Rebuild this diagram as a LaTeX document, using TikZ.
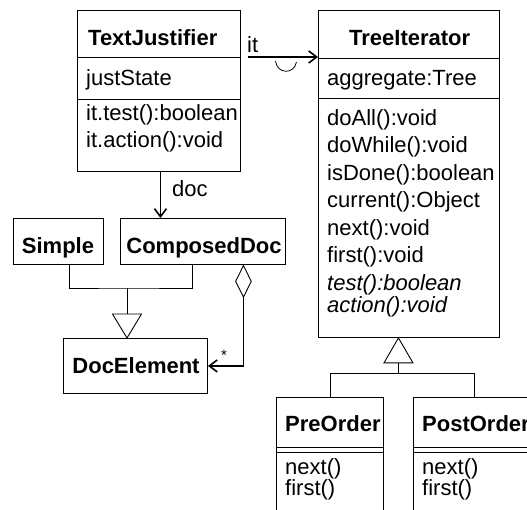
\documentclass[tikz,border=0pt]{standalone}
\usepackage{fontspec}
\setmainfont{Liberation Sans}
\usetikzlibrary{arrows.meta,shapes.geometric}
\begin{document}
\begin{tikzpicture}[x=1pt,y=-1pt,
  box/.style={draw, line width=0.9pt, rectangle, inner sep=0pt, anchor=north west},
  txt/.style={inner sep=0pt, anchor=base west, font=\fontsize{22}{26}\selectfont},
  itx/.style={txt, font=\fontsize{22}{26}\selectfont\itshape},
  nm/.style={txt, font=\fontsize{22}{26}\selectfont\bfseries},
  assoc/.style={line width=1.6pt, -{Straight Barb[length=8pt,width=12pt]}},
  gen/.style={line width=0.9pt},
]
\useasboundingbox (0,0) rectangle (527,509);
\clip (0,0) rectangle (527,509);

% TextJustifier
\node[box, minimum width=163pt, minimum height=161pt] (tj) at (77,10) {};
\draw[gen] (tj.north west |- 0,57) -- (tj.north east |- 0,57);
\draw[gen] (tj.north west |- 0,99) -- (tj.north east |- 0,99);
\node[nm] (tjn) at (88,45) {TextJustifier};
\node[txt] (tja) at (86,85) {justState};
\node[txt] (tjm1) at (86,120) {it.test():boolean};
\node[txt] (tjm2) at (86,147) {it.action():void};

% TreeIterator
\node[box, minimum width=181pt, minimum height=327pt] (ti) at (318,10) {};
\draw[gen] (ti.north west |- 0,58) -- (ti.north east |- 0,58);
\draw[gen] (ti.north west |- 0,98) -- (ti.north east |- 0,98);
\node[nm] (tin) at (349,45) {TreeIterator};
\node[txt] (tia) at (327,85) {aggregate:Tree};
\node[txt] (tim1) at (327,125) {doAll():void};
\node[txt] (tim2) at (327,152) {doWhile():void};
\node[txt] (tim3) at (327,180) {isDone():boolean};
\node[txt] (tim4) at (327,207) {current():Object};
\node[txt] (tim5) at (327,235) {next():void};
\node[txt] (tim6) at (327,262) {first():void};
\node[itx] (tim7) at (327,290) {test():boolean};
\node[itx] (tim8) at (327,312) {action():void};

% Simple, ComposedDoc, DocElement
\node[box, minimum width=90pt, minimum height=46pt] (si) at (13,218) {};
\node[nm, anchor=base] (sin) at (58,253) {Simple};
\node[box, minimum width=165pt, minimum height=46pt] (cd) at (120,218) {};
\node[nm, anchor=base] (cdn) at (204,253) {ComposedDoc};
\node[box, minimum width=144pt, minimum height=55pt] (dm) at (63,338) {};
\node[nm, anchor=base] (dmn) at (136,373) {DocElement};

% PreOrder, PostOrder
\node[box, minimum width=107pt, minimum height=130pt] (pr) at (276,397) {};
\draw[gen] (pr.north west |- 0,447) -- (pr.north east |- 0,447);
\draw[gen] (pr.north west |- 0,452) -- (pr.north east |- 0,452);
\node[nm] (prn) at (285,431) {PreOrder};
\node[txt] (prm1) at (285,474) {next()};
\node[txt] (prm2) at (285,495) {first()};
\node[box, minimum width=122pt, minimum height=130pt] (po) at (413,397) {};
\draw[gen] (po.north west |- 0,447) -- (po.north east |- 0,447);
\draw[gen] (po.north west |- 0,452) -- (po.north east |- 0,452);
\node[nm] (pon) at (422,431) {PostOrder};
\node[txt] (pom1) at (422,474) {next()};
\node[txt] (pom2) at (422,495) {first()};

% association "it"
\draw[assoc] ([xshift=7pt,yshift=-47pt]tj.north east) -- ([yshift=-47pt]ti.north west);
\node[txt] (itl) at (247,52) {it};
\draw[line width=0.8pt] (275.5,61) .. controls (277,74) and (294,75) .. (296.5,62);

% association "doc"
\coordinate (d0) at ([xshift=1.5pt]tj.south);
\draw[assoc] (d0) -- (d0 |- cd.north);
\node[txt] (docl) at (172,196) {doc};

% generalization to DocElement
\coordinate (j1) at (127,288);
\coordinate (a1) at (dm.north -| j1);
\coordinate (b1) at ([yshift=24pt]a1);
\draw[gen] (a1) -- ++(-14.5,-24) -- ++(29,0) -- cycle;
\draw[gen] (j1) -- (b1);
\coordinate (s1) at ([xshift=11pt]si.south);
\coordinate (c1) at ([xshift=-10.5pt]cd.south);
\draw[gen] (s1) |- (j1) -| (c1);

% generalization to TreeIterator
\coordinate (a2) at ([xshift=-10.5pt]ti.south);
\coordinate (b2) at ([yshift=-25pt]a2);
\coordinate (j2) at ([yshift=-36pt]a2);
\draw[gen] (a2) -- ++(-14.5,25) -- ++(29,0) -- cycle;
\draw[gen] (b2) -- (j2);
\draw[gen] (pr.north) |- (j2) -| (po.north);

% aggregation
\node[diamond, draw, line width=0.9pt, inner sep=0pt, minimum width=16pt, minimum height=32pt, anchor=north] (dia) at ([xshift=40.5pt]cd.south) {};
\draw[assoc] (dia.south) |- (dm.east);
\node[inner sep=0pt, font=\fontsize{15}{15}\selectfont] (star) at (224,355) {*};
\end{tikzpicture}
\end{document}
